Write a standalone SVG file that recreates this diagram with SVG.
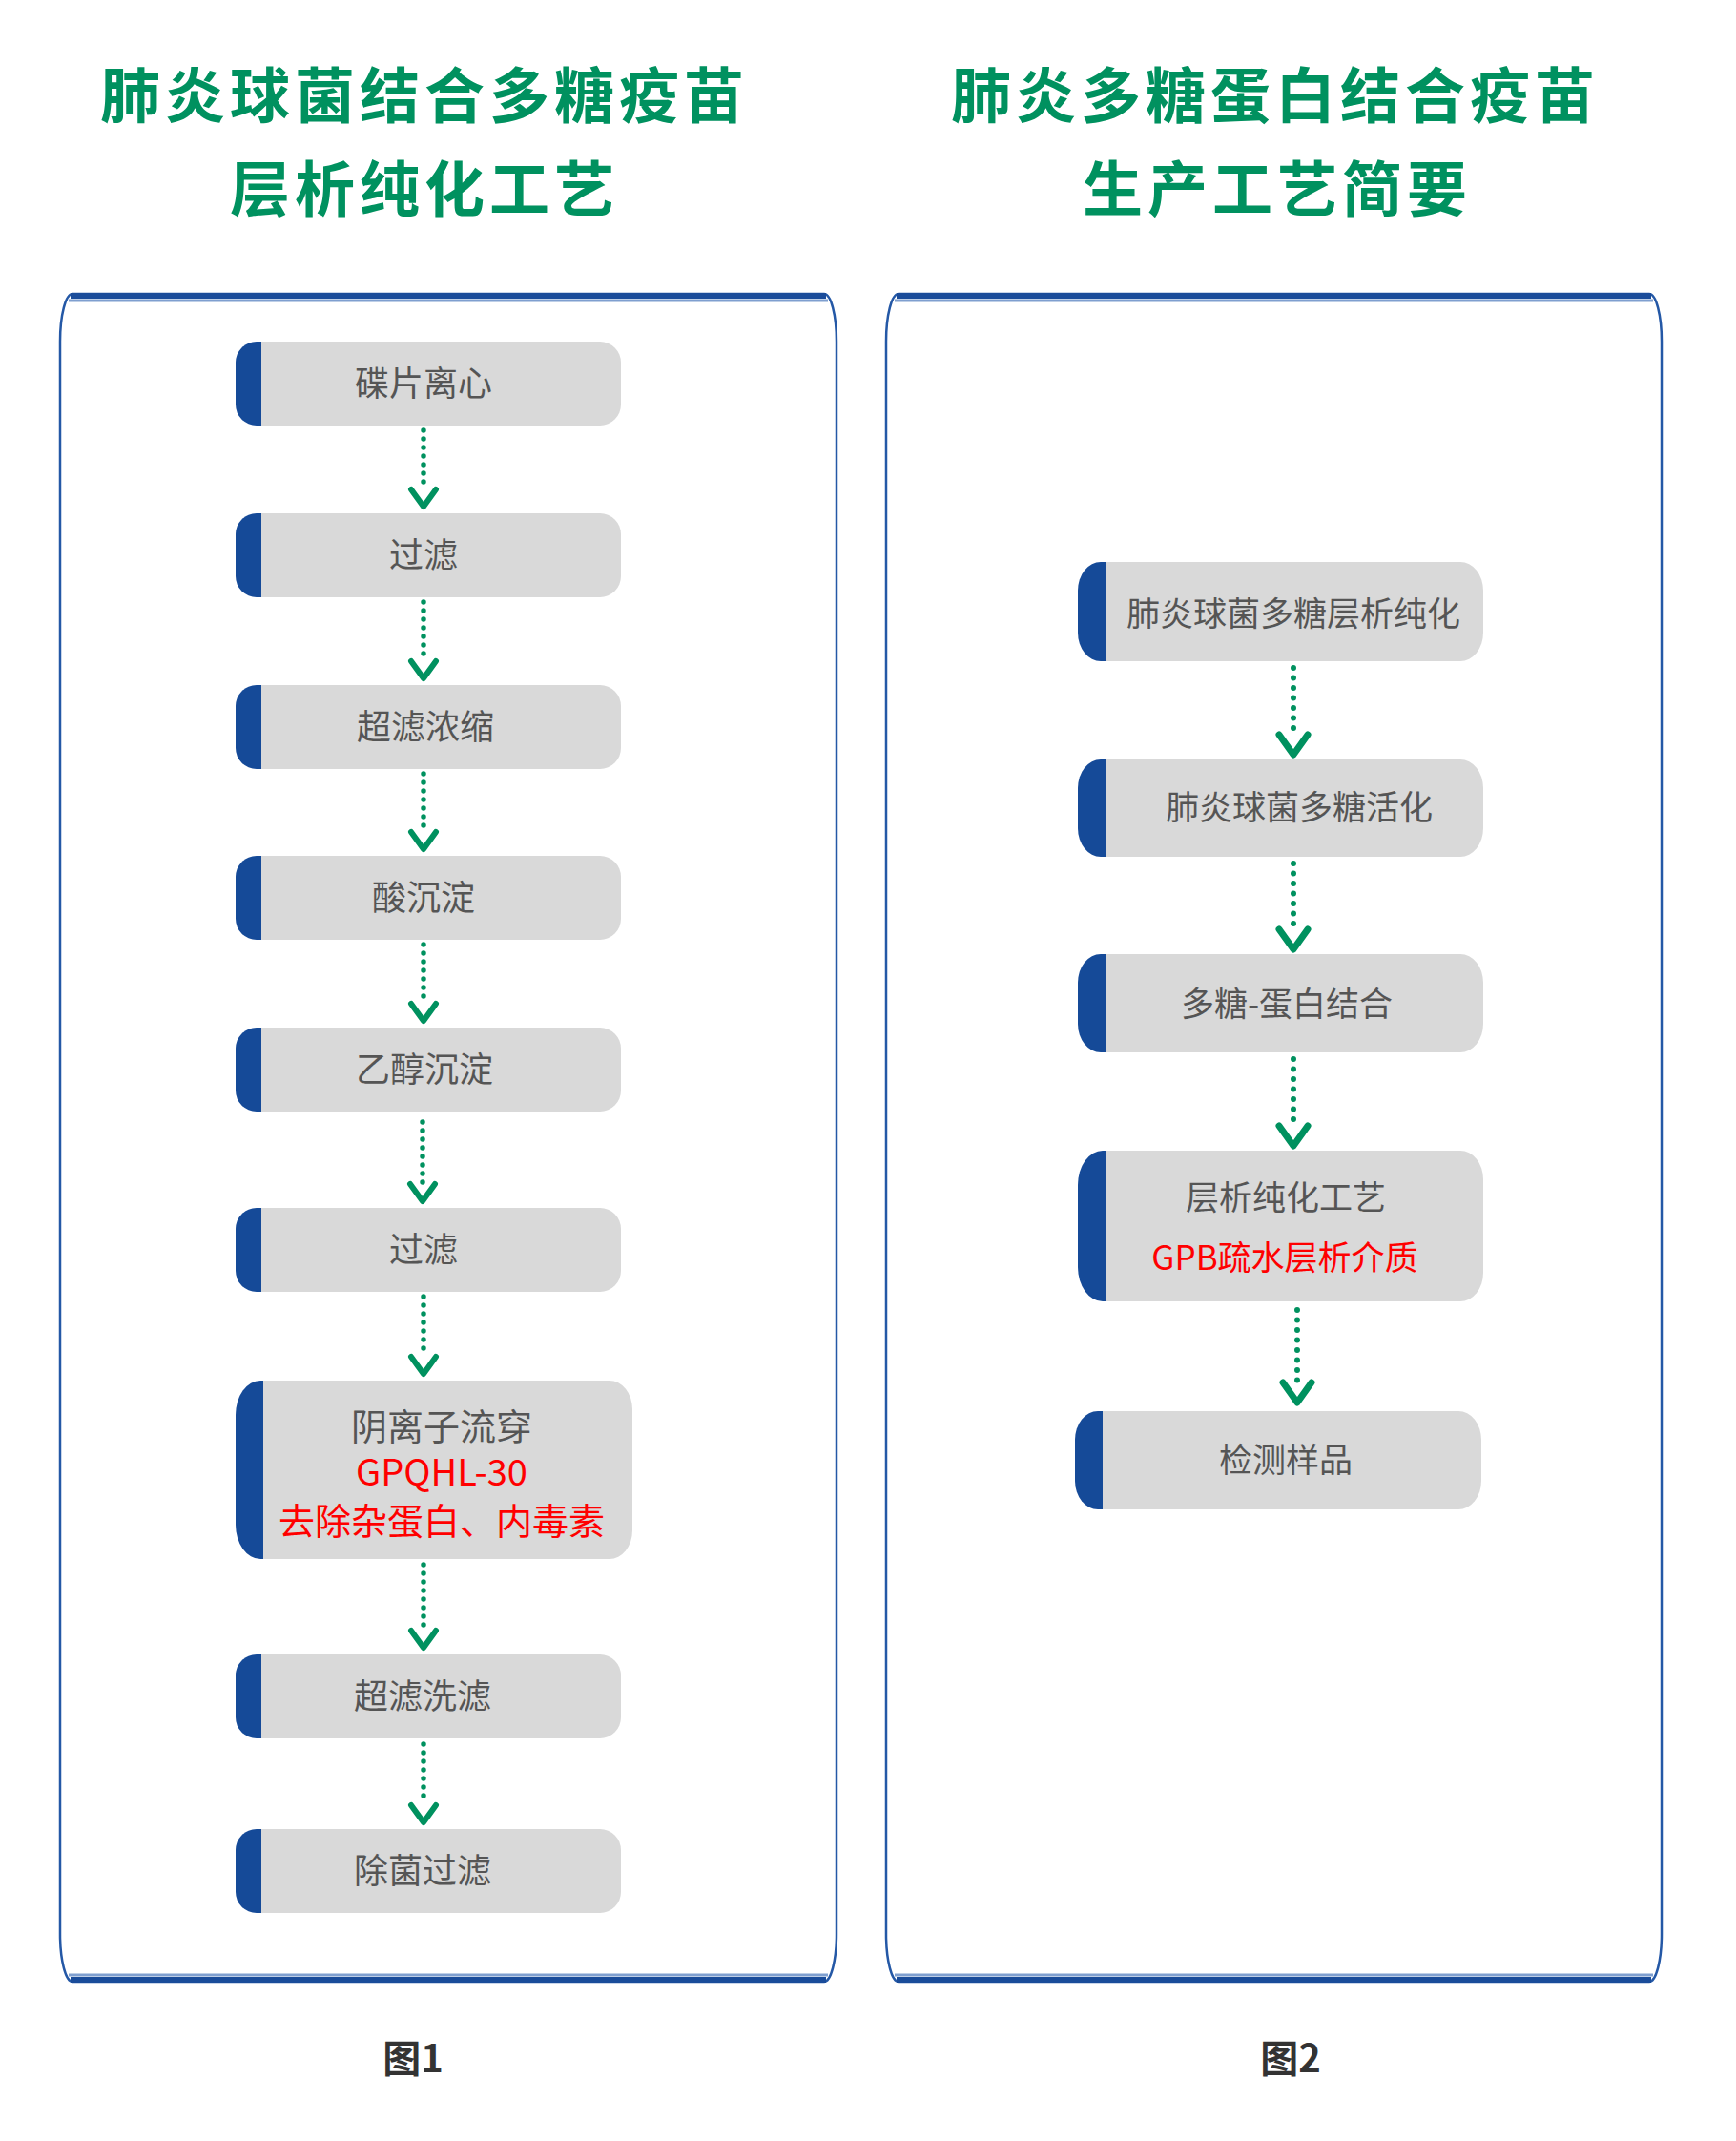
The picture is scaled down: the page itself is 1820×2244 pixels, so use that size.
<svg xmlns="http://www.w3.org/2000/svg" width="1820" height="2244" viewBox="0 0 1820 2244">
<defs>
<style>
.title{font-family:"Noto Sans CJK SC","Noto Sans",sans-serif;font-weight:bold;font-size:63px;fill:#00915f;letter-spacing:5px;text-anchor:middle}
.cap{font-family:"Noto Sans CJK SC","Noto Sans",sans-serif;font-weight:bold;font-size:40px;fill:#333;text-anchor:middle}
.panel{fill:#fff;stroke:#2458a6;stroke-width:2.5}
.edge{stroke:#1a4c9a;stroke-width:6}
.edge2{stroke:#7f9fcf;stroke-width:3}
.gray{fill:#d9d9d9}
.band{fill:#154a98}
.t{font-family:"Noto Sans CJK SC","Noto Sans",sans-serif;font-size:36px;fill:#555;text-anchor:middle}
.tr{font-family:"Noto Sans CJK SC","Noto Sans",sans-serif;font-size:35px;fill:#555;text-anchor:middle}
.red{fill:#ff0000}
.dot{stroke:#00915f;stroke-width:5.5;stroke-linecap:round;stroke-dasharray:0 9;fill:none}
.dotR{stroke:#00915f;stroke-width:6;stroke-linecap:round;stroke-dasharray:0 10.5;fill:none}
.chev{stroke:#00915f;stroke-width:6;stroke-linecap:round;stroke-linejoin:round;fill:none}
.chevR{stroke:#00915f;stroke-width:7;stroke-linecap:round;stroke-linejoin:round;fill:none}
</style>
</defs>
<rect width="1820" height="2244" fill="#fff"/>

<g id="titles">
<text class="title" x="445" y="123">肺炎球菌结合多糖疫苗</text>
<text class="title" x="445" y="221">层析纯化工艺</text>
<text class="title" x="1337" y="123">肺炎多糖蛋白结合疫苗</text>
<text class="title" x="1339" y="221">生产工艺简要</text>
</g>

<g id="panel1">
<path class="panel" d="M63,358 A13 50 0 0 1 76,308 H864 A13 50 0 0 1 877,358 V2027 A13 50 0 0 1 864,2077 H76 A13 50 0 0 1 63,2027 Z"/>
<line class="edge" x1="74" y1="310" x2="866" y2="310"/>
<line class="edge2" x1="72" y1="315" x2="868" y2="315"/>
<line class="edge" x1="74" y1="2075" x2="866" y2="2075"/>
<line class="edge2" x1="72" y1="2070" x2="868" y2="2070"/>
</g>
<g id="panel2">
<path class="panel" d="M929,358 A13 50 0 0 1 942,308 H1729 A13 50 0 0 1 1742,358 V2027 A13 50 0 0 1 1729,2077 H942 A13 50 0 0 1 929,2027 Z"/>
<line class="edge" x1="940" y1="310" x2="1731" y2="310"/>
<line class="edge2" x1="938" y1="315" x2="1733" y2="315"/>
<line class="edge" x1="940" y1="2075" x2="1731" y2="2075"/>
<line class="edge2" x1="938" y1="2070" x2="1733" y2="2070"/>
</g>

<g id="connectors">
<line class="dot" x1="444" y1="451" x2="444" y2="512"/><path class="chev" d="M431,513 L444,531 L457,513"/>
<line class="dot" x1="444" y1="631" x2="444" y2="692"/><path class="chev" d="M431,693 L444,711 L457,693"/>
<line class="dot" x1="444" y1="811" x2="444" y2="871"/><path class="chev" d="M431,872 L444,890 L457,872"/>
<line class="dot" x1="444" y1="990" x2="444" y2="1051"/><path class="chev" d="M431,1052 L444,1070 L457,1052"/>
<line class="dot" x1="443" y1="1176" x2="443" y2="1240"/><path class="chev" d="M430,1241 L443,1259 L456,1241"/>
<line class="dot" x1="444" y1="1359" x2="444" y2="1421"/><path class="chev" d="M431,1422 L444,1440 L457,1422"/>
<line class="dot" x1="444" y1="1640" x2="444" y2="1708"/><path class="chev" d="M431,1709 L444,1727 L457,1709"/>
<line class="dot" x1="444" y1="1828" x2="444" y2="1891"/><path class="chev" d="M431,1892 L444,1910 L457,1892"/>

<line class="dotR" x1="1356" y1="700" x2="1356" y2="770"/><path class="chevR" d="M1341,770 L1356,791 L1371,770"/>
<line class="dotR" x1="1356" y1="905" x2="1356" y2="975"/><path class="chevR" d="M1341,974 L1356,995 L1371,974"/>
<line class="dotR" x1="1356" y1="1110" x2="1356" y2="1180"/><path class="chevR" d="M1341,1180 L1356,1201 L1371,1180"/>
<line class="dotR" x1="1360" y1="1373" x2="1360" y2="1447"/><path class="chevR" d="M1345,1449 L1360,1470 L1375,1449"/>
</g>

<g id="n1">
<rect class="band" x="247" y="358" width="60" height="88" rx="22" ry="22"/>
<path class="gray" d="M274,358 H629 A22 22 0 0 1 651,380 V424 A22 22 0 0 1 629,446 H274 Z"/>
<text class="t" x="444" y="415">碟片离心</text>
</g>
<g id="n2">
<rect class="band" x="247" y="538" width="60" height="88" rx="22" ry="22"/>
<path class="gray" d="M274,538 H629 A22 22 0 0 1 651,560 V604 A22 22 0 0 1 629,626 H274 Z"/>
<text class="t" x="444" y="595">过滤</text>
</g>
<g id="n3">
<rect class="band" x="247" y="718" width="60" height="88" rx="22" ry="22"/>
<path class="gray" d="M274,718 H629 A22 22 0 0 1 651,740 V784 A22 22 0 0 1 629,806 H274 Z"/>
<text class="t" x="446" y="775">超滤浓缩</text>
</g>
<g id="n4">
<rect class="band" x="247" y="897" width="60" height="88" rx="22" ry="22"/>
<path class="gray" d="M274,897 H629 A22 22 0 0 1 651,919 V963 A22 22 0 0 1 629,985 H274 Z"/>
<text class="t" x="444" y="954">酸沉淀</text>
</g>
<g id="n5">
<rect class="band" x="247" y="1077" width="60" height="88" rx="22" ry="22"/>
<path class="gray" d="M274,1077 H629 A22 22 0 0 1 651,1099 V1143 A22 22 0 0 1 629,1165 H274 Z"/>
<text class="t" x="445" y="1134">乙醇沉淀</text>
</g>
<g id="n6">
<rect class="band" x="247" y="1266" width="60" height="88" rx="22" ry="22"/>
<path class="gray" d="M274,1266 H629 A22 22 0 0 1 651,1288 V1332 A22 22 0 0 1 629,1354 H274 Z"/>
<text class="t" x="444" y="1323">过滤</text>
</g>
<g id="n7">
<rect class="band" x="247" y="1447" width="70" height="187" rx="26" ry="36"/>
<path class="gray" d="M276,1447 H639 A24 30 0 0 1 663,1477 V1604 A24 30 0 0 1 639,1634 H276 Z"/>
<text class="t" x="463" y="1509" style="font-size:38px">阴离子流穿</text>
<text class="t red" x="463" y="1557" style="font-size:38px">GPQHL-30</text>
<text class="t red" x="463" y="1608" style="font-size:38px">去除杂蛋白、内毒素</text>
</g>
<g id="n8">
<rect class="band" x="247" y="1734" width="60" height="88" rx="22" ry="22"/>
<path class="gray" d="M274,1734 H629 A22 22 0 0 1 651,1756 V1800 A22 22 0 0 1 629,1822 H274 Z"/>
<text class="t" x="443" y="1791">超滤洗滤</text>
</g>
<g id="n9">
<rect class="band" x="247" y="1917" width="60" height="88" rx="22" ry="22"/>
<path class="gray" d="M274,1917 H629 A22 22 0 0 1 651,1939 V1983 A22 22 0 0 1 629,2005 H274 Z"/>
<text class="t" x="443" y="1974">除菌过滤</text>
</g>

<g id="r1">
<rect class="band" x="1130" y="589" width="70" height="104" rx="24" ry="30"/>
<path class="gray" d="M1159,589 H1531 A24 30 0 0 1 1555,619 V663 A24 30 0 0 1 1531,693 H1159 Z"/>
<text class="tr" x="1356" y="656">肺炎球菌多糖层析纯化</text>
</g>
<g id="r2">
<rect class="band" x="1130" y="796" width="70" height="102" rx="24" ry="30"/>
<path class="gray" d="M1159,796 H1531 A24 30 0 0 1 1555,826 V868 A24 30 0 0 1 1531,898 H1159 Z"/>
<text class="tr" x="1362" y="859">肺炎球菌多糖活化</text>
</g>
<g id="r3">
<rect class="band" x="1130" y="1000" width="70" height="103" rx="24" ry="30"/>
<path class="gray" d="M1159,1000 H1531 A24 30 0 0 1 1555,1030 V1073 A24 30 0 0 1 1531,1103 H1159 Z"/>
<text class="tr" x="1349" y="1065">多糖-蛋白结合</text>
</g>
<g id="r4">
<rect class="band" x="1130" y="1206" width="70" height="158" rx="26" ry="36"/>
<path class="gray" d="M1159,1206 H1531 A24 30 0 0 1 1555,1236 V1334 A24 30 0 0 1 1531,1364 H1159 Z"/>
<text class="tr" x="1348" y="1268">层析纯化工艺</text>
<text class="tr red" x="1347" y="1331">GPB疏水层析介质</text>
</g>
<g id="r5">
<rect class="band" x="1127" y="1479" width="70" height="103" rx="24" ry="30"/>
<path class="gray" d="M1156,1479 H1529 A24 30 0 0 1 1553,1509 V1552 A24 30 0 0 1 1529,1582 H1156 Z"/>
<text class="tr" x="1348" y="1543">检测样品</text>
</g>

<g id="captions">
<text class="cap" x="433" y="2172">图1</text>
<text class="cap" x="1353" y="2172">图2</text>
</g>
</svg>
